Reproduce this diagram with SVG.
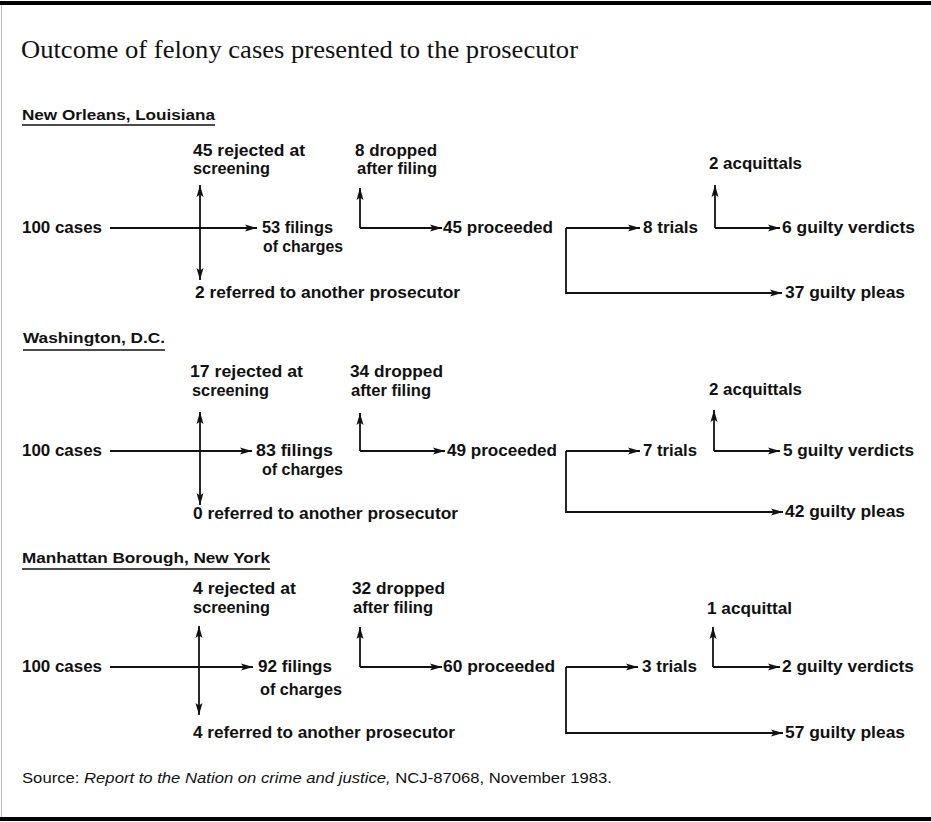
<svg xmlns="http://www.w3.org/2000/svg" width="931" height="822" viewBox="0 0 931 822">
<defs>
<marker id="ah" markerWidth="12" markerHeight="8" refX="12" refY="4" orient="auto" markerUnits="userSpaceOnUse">
<path d="M0,0.5 L12,4 L0,7.5 L2.5,4 z" fill="#111"/>
</marker>
<style>
.t{font-family:"Liberation Sans",Arial,sans-serif;font-weight:bold;font-size:16px;fill:#111}
.h{font-family:"Liberation Sans",Arial,sans-serif;font-weight:bold;font-size:15px;fill:#111}
.title{font-family:"Liberation Serif","Times New Roman",serif;font-size:25px;fill:#111}
.src{font-family:"Liberation Sans",Arial,sans-serif;font-size:15px;fill:#111}
.c path{fill:none;stroke:#111;stroke-width:1.8;marker-end:url(#ah)}
.ul{stroke:#111;stroke-width:1.6}
.border{stroke:#000;stroke-width:4}
</style>
</defs>
<rect width="931" height="822" fill="#fff"/>
<line class="border" x1="0" y1="3" x2="931" y2="3"/>
<line class="border" x1="0" y1="819" x2="931" y2="819"/>
<line x1="1.5" y1="5" x2="1.5" y2="817" stroke="#bbb" stroke-width="1"/>

<text class="title" x="21" y="58" textLength="557" lengthAdjust="spacingAndGlyphs">Outcome of felony cases presented to the prosecutor</text>

<!-- New Orleans -->
<g id="hdr-neworleans"><text class="h" x="22" y="120" textLength="193" lengthAdjust="spacingAndGlyphs">New Orleans, Louisiana</text><line class="ul" x1="22" y1="125" x2="215" y2="125"/></g>
<g id="no-cases"><text class="t" x="22" y="233" textLength="80" lengthAdjust="spacingAndGlyphs">100 cases</text></g>
<g id="no-rejected"><text class="t" x="193" y="156" textLength="112" lengthAdjust="spacingAndGlyphs">45 rejected at</text><text class="t" x="193" y="174" textLength="77" lengthAdjust="spacingAndGlyphs">screening</text></g>
<g id="no-filings"><text class="t" x="262" y="233" textLength="71" lengthAdjust="spacingAndGlyphs">53 filings</text><text class="t" x="263" y="252" textLength="80" lengthAdjust="spacingAndGlyphs">of charges</text></g>
<g id="no-referred"><text class="t" x="195" y="298" textLength="265" lengthAdjust="spacingAndGlyphs">2 referred to another prosecutor</text></g>
<g id="no-dropped"><text class="t" x="355" y="156" textLength="82" lengthAdjust="spacingAndGlyphs">8 dropped</text><text class="t" x="357" y="174" textLength="80" lengthAdjust="spacingAndGlyphs">after filing</text></g>
<g id="no-proceeded"><text class="t" x="443" y="233" textLength="110" lengthAdjust="spacingAndGlyphs">45 proceeded</text></g>
<g id="no-trials"><text class="t" x="643" y="233" textLength="55" lengthAdjust="spacingAndGlyphs">8 trials</text></g>
<g id="no-acquittals"><text class="t" x="709" y="169" textLength="93" lengthAdjust="spacingAndGlyphs">2 acquittals</text></g>
<g id="no-verdicts"><text class="t" x="782" y="233" textLength="133" lengthAdjust="spacingAndGlyphs">6 guilty verdicts</text></g>
<g id="no-pleas"><text class="t" x="785" y="298" textLength="120" lengthAdjust="spacingAndGlyphs">37 guilty pleas</text></g>

<!-- Washington -->
<g id="hdr-washington"><text class="h" x="23" y="343" textLength="142" lengthAdjust="spacingAndGlyphs">Washington, D.C.</text><line class="ul" x1="23" y1="350" x2="165" y2="350"/></g>
<g id="dc-cases"><text class="t" x="22" y="456" textLength="80" lengthAdjust="spacingAndGlyphs">100 cases</text></g>
<g id="dc-rejected"><text class="t" x="190" y="377" textLength="113" lengthAdjust="spacingAndGlyphs">17 rejected at</text><text class="t" x="192" y="396" textLength="77" lengthAdjust="spacingAndGlyphs">screening</text></g>
<g id="dc-filings"><text class="t" x="256" y="456" textLength="77" lengthAdjust="spacingAndGlyphs">83 filings</text><text class="t" x="262" y="475" textLength="81" lengthAdjust="spacingAndGlyphs">of charges</text></g>
<g id="dc-referred"><text class="t" x="193" y="519" textLength="265" lengthAdjust="spacingAndGlyphs">0 referred to another prosecutor</text></g>
<g id="dc-dropped"><text class="t" x="350" y="377" textLength="93" lengthAdjust="spacingAndGlyphs">34 dropped</text><text class="t" x="351" y="396" textLength="80" lengthAdjust="spacingAndGlyphs">after filing</text></g>
<g id="dc-proceeded"><text class="t" x="447" y="456" textLength="110" lengthAdjust="spacingAndGlyphs">49 proceeded</text></g>
<g id="dc-trials"><text class="t" x="643" y="456" textLength="54" lengthAdjust="spacingAndGlyphs">7 trials</text></g>
<g id="dc-acquittals"><text class="t" x="709" y="395" textLength="93" lengthAdjust="spacingAndGlyphs">2 acquittals</text></g>
<g id="dc-verdicts"><text class="t" x="783" y="456" textLength="131" lengthAdjust="spacingAndGlyphs">5 guilty verdicts</text></g>
<g id="dc-pleas"><text class="t" x="785" y="517" textLength="120" lengthAdjust="spacingAndGlyphs">42 guilty pleas</text></g>

<!-- Manhattan -->
<g id="hdr-manhattan"><text class="h" x="22" y="563" textLength="248" lengthAdjust="spacingAndGlyphs">Manhattan Borough, New York</text><line class="ul" x1="22" y1="569" x2="270" y2="569"/></g>
<g id="mn-cases"><text class="t" x="22" y="672" textLength="80" lengthAdjust="spacingAndGlyphs">100 cases</text></g>
<g id="mn-rejected"><text class="t" x="193" y="594" textLength="103" lengthAdjust="spacingAndGlyphs">4 rejected at</text><text class="t" x="193" y="613" textLength="77" lengthAdjust="spacingAndGlyphs">screening</text></g>
<g id="mn-filings"><text class="t" x="258" y="672" textLength="74" lengthAdjust="spacingAndGlyphs">92 filings</text><text class="t" x="260" y="695" textLength="82" lengthAdjust="spacingAndGlyphs">of charges</text></g>
<g id="mn-referred"><text class="t" x="193" y="738" textLength="262" lengthAdjust="spacingAndGlyphs">4 referred to another prosecutor</text></g>
<g id="mn-dropped"><text class="t" x="352" y="594" textLength="93" lengthAdjust="spacingAndGlyphs">32 dropped</text><text class="t" x="353" y="613" textLength="80" lengthAdjust="spacingAndGlyphs">after filing</text></g>
<g id="mn-proceeded"><text class="t" x="443" y="672" textLength="112" lengthAdjust="spacingAndGlyphs">60 proceeded</text></g>
<g id="mn-trials"><text class="t" x="642" y="672" textLength="55" lengthAdjust="spacingAndGlyphs">3 trials</text></g>
<g id="mn-acquittals"><text class="t" x="707" y="614" textLength="85" lengthAdjust="spacingAndGlyphs">1 acquittal</text></g>
<g id="mn-verdicts"><text class="t" x="782" y="672" textLength="132" lengthAdjust="spacingAndGlyphs">2 guilty verdicts</text></g>
<g id="mn-pleas"><text class="t" x="785" y="738" textLength="120" lengthAdjust="spacingAndGlyphs">57 guilty pleas</text></g>

<g id="connectors" class="c">
<!-- New Orleans -->
<path d="M110,228 L257,228"/>
<path d="M200,228 L200,185"/>
<path d="M200,228 L200,280"/>
<path d="M360,228 L360,188"/>
<path d="M360,228 L442,228"/>
<path d="M566,228 L640,228"/>
<path d="M566,228 L566,293 L782,293"/>
<path d="M715,228 L715,185"/>
<path d="M715,228 L780,228"/>
<!-- Washington -->
<path d="M110,451 L252,451"/>
<path d="M200,451 L200,412"/>
<path d="M200,451 L200,505"/>
<path d="M360,451 L360,413"/>
<path d="M360,451 L445,451"/>
<path d="M566,451 L640,451"/>
<path d="M566,451 L566,512 L783,512"/>
<path d="M714,451 L714,410"/>
<path d="M714,451 L780,451"/>
<!-- Manhattan -->
<path d="M110,667 L253,667"/>
<path d="M199,667 L199,626"/>
<path d="M199,667 L199,715"/>
<path d="M360,667 L360,627"/>
<path d="M360,667 L442,667"/>
<path d="M566,667 L638,667"/>
<path d="M566,667 L566,733 L783,733"/>
<path d="M713,667 L713,627"/>
<path d="M713,667 L780,667"/>
</g>

<text class="src" x="22" y="783" textLength="590" lengthAdjust="spacingAndGlyphs">Source: <tspan font-style="italic">Report to the Nation on crime and justice,</tspan> NCJ-87068, November  1983.</text>
</svg>
